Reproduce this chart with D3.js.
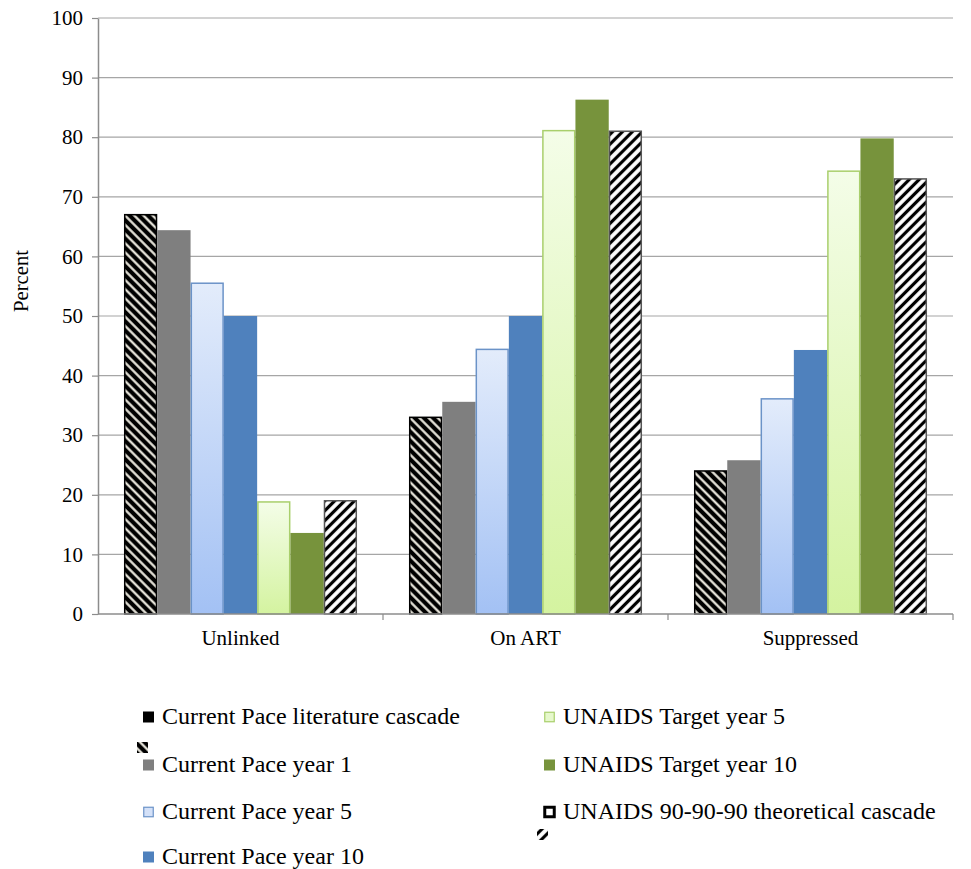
<!DOCTYPE html>
<html>
<head>
<meta charset="utf-8">
<script src="https://cdn.jsdelivr.net/npm/d3@7"></script>
<style>
  html, body { margin: 0; padding: 0; background: #fff; }
  svg { display: block; }
  text { font-family: "Liberation Serif", "Times New Roman", serif; fill: #000; }
</style>
</head>
<body>
<script>
// Care cascade: percent of people in each stage, by scenario
const categories = ["Unlinked", "On ART", "Suppressed"];
const seriesNames = [
  "Current Pace literature cascade",
  "Current Pace year 1",
  "Current Pace year 5",
  "Current Pace year 10",
  "UNAIDS Target year 5",
  "UNAIDS Target year 10",
  "UNAIDS 90-90-90 theoretical cascade"
];
const literatureCascade = [67.0, 33.0, 24.0];
const paceYear1        = [64.4, 35.6, 25.8];
const paceYear5        = [55.5, 44.4, 36.1];
const paceYear10       = [50.0, 50.0, 44.3];
const targetYear5      = [18.8, 81.1, 74.3];
const targetYear10     = [13.6, 86.3, 79.8];
const theoreticalCascade = [19.0, 81.0, 73.0];
const yTicks = [0, 10, 20, 30, 40, 50, 60, 70, 80, 90, 100];

const seriesValues = [literatureCascade, paceYear1, paceYear5, paceYear10,
                      targetYear5, targetYear10, theoreticalCascade];

const W = 971, H = 869;
const svg = d3.select("body").append("svg").attr("width", W).attr("height", H);
const defs = svg.append("defs");

// Fills
function hatch(id, bg, fg, angle, size, sw) {
  const p = defs.append("pattern").attr("id", id)
    .attr("patternUnits", "userSpaceOnUse").attr("width", size).attr("height", size)
    .attr("patternTransform", `rotate(${angle})`);
  p.append("rect").attr("width", size).attr("height", size).attr("fill", bg);
  p.append("line").attr("x1", size / 2).attr("y1", 0).attr("x2", size / 2).attr("y2", size)
    .attr("stroke", fg).attr("stroke-width", sw);
}
hatch("hatchDark", "#000", "#f4f1e6", -45, 6.5, 2.2);
hatch("hatchLight", "#fff", "#000", 45, 7, 3.2);

function vgrad(id, top, bottom) {
  const g = defs.append("linearGradient").attr("id", id)
    .attr("x1", 0).attr("y1", 0).attr("x2", 0).attr("y2", 1);
  g.append("stop").attr("offset", "0%").attr("stop-color", top);
  g.append("stop").attr("offset", "100%").attr("stop-color", bottom);
}
vgrad("gradBlue", "#e3ecfb", "#a3c1f4");
vgrad("gradGreen", "#f4fde8", "#d4f3a0");

const styles = [
  { fill: "url(#hatchDark)", stroke: "#000", sw: 1.5, key: "#000", keyStroke: "none" },
  { fill: "#7f7f7f", stroke: "none", sw: 0, key: "#7f7f7f", keyStroke: "none" },
  { fill: "url(#gradBlue)", stroke: "#6b93c8", sw: 1.5, key: "#d4e1f8", keyStroke: "#6b93c8" },
  { fill: "#4f81bd", stroke: "none", sw: 0, key: "#4f81bd", keyStroke: "none" },
  { fill: "url(#gradGreen)", stroke: "#a9cf6c", sw: 1.5, key: "#e6f8cc", keyStroke: "#a9cf6c" },
  { fill: "#77933c", stroke: "none", sw: 0, key: "#77933c", keyStroke: "none" },
  { fill: "url(#hatchLight)", stroke: "#555", sw: 1.5, key: "#fff", keyStroke: "#000" }
];

const plot = { left: 98, right: 953, top: 18, bottom: 614 };

const x0 = d3.scaleBand().domain(categories).range([plot.left, plot.right]).padding(0);
const x1 = d3.scaleBand().domain(d3.range(seriesNames.length))
  .range([0, x0.bandwidth()]).paddingInner(0).paddingOuter(0.78);
const y = d3.scaleLinear().domain([0, 100]).range([plot.bottom, plot.top]);

// Horizontal gridlines
svg.append("g").selectAll("line").data(yTicks.filter(d => d > 0)).join("line")
  .attr("x1", plot.left).attr("x2", plot.right)
  .attr("y1", d => y(d)).attr("y2", d => y(d))
  .attr("stroke", "#a6a6a6").attr("stroke-width", 1.2);

// Y axis (line and tick marks from d3.axisLeft, labels set in serif type)
const yAxis = svg.append("g").attr("transform", `translate(${plot.left},0)`)
  .call(d3.axisLeft(y).tickValues(yTicks).tickSize(6).tickFormat("").tickSizeOuter(0));
yAxis.select(".domain").attr("stroke", "#8c8c8c").attr("stroke-width", 1.5);
yAxis.selectAll(".tick line").attr("stroke", "#8c8c8c").attr("stroke-width", 1.2);
svg.append("g").selectAll("text").data(yTicks).join("text")
  .attr("x", plot.left - 15).attr("y", d => y(d)).attr("dy", "0.34em")
  .attr("text-anchor", "end").attr("font-size", 21).text(d => d);

// Bars
const groups = svg.append("g").selectAll("g").data(categories).join("g")
  .attr("transform", d => `translate(${x0(d)},0)`);
groups.selectAll("rect")
  .data((c, ci) => seriesValues.map((vals, si) => ({ si, v: vals[ci] })))
  .join("rect")
  .attr("x", d => x1(d.si) + (styles[d.si].sw ? 0.75 : 0))
  .attr("width", d => x1.bandwidth() - (styles[d.si].sw ? 1.5 : 0))
  .attr("y", d => y(d.v))
  .attr("height", d => y(0) - y(d.v))
  .attr("fill", d => styles[d.si].fill)
  .attr("stroke", d => styles[d.si].stroke)
  .attr("stroke-width", d => styles[d.si].sw);

// X axis with ticks at category boundaries
const xAxisG = svg.append("g");
xAxisG.append("line").attr("x1", plot.left).attr("x2", plot.right)
  .attr("y1", plot.bottom).attr("y2", plot.bottom)
  .attr("stroke", "#8c8c8c").attr("stroke-width", 1.5);
xAxisG.selectAll("line.tk").data(categories).join("line").attr("class", "tk")
  .attr("x1", d => x0(d) + x0.bandwidth()).attr("x2", d => x0(d) + x0.bandwidth())
  .attr("y1", plot.bottom).attr("y2", plot.bottom + 6)
  .attr("stroke", "#8c8c8c").attr("stroke-width", 1.2);
xAxisG.selectAll("text").data(categories).join("text")
  .attr("x", d => x0(d) + x0.bandwidth() / 2).attr("y", plot.bottom + 31)
  .attr("text-anchor", "middle").attr("font-size", 21).text(d => d);

// Y axis title
svg.append("text").attr("transform", "translate(28,281) rotate(-90)")
  .attr("text-anchor", "middle").attr("font-size", 20)
  .attr("textLength", 62).attr("lengthAdjust", "spacingAndGlyphs").text("Percent");

// Legend
const legendRows = [717, 765, 812, 857];
const legendItems = seriesNames.map((name, i) => ({
  name, i,
  x: i < 4 ? 143 : 544,
  cy: i < 4 ? legendRows[i] : legendRows[i - 4]
}));
const lg = svg.append("g").selectAll("g").data(legendItems).join("g");
lg.append("rect")
  .attr("x", d => d.x + (styles[d.i].keyStroke === "none" ? 0 : 0.75))
  .attr("y", d => d.cy - 5.5 + (styles[d.i].keyStroke === "none" ? 0 : 0.75))
  .attr("width", d => styles[d.i].keyStroke === "none" ? 11 : 9.5)
  .attr("height", d => styles[d.i].keyStroke === "none" ? 11 : 9.5)
  .attr("fill", d => styles[d.i].key)
  .attr("stroke", d => styles[d.i].keyStroke)
  .attr("stroke-width", d => d.i === 6 ? 3 : 1.2);
lg.append("text")
  .attr("x", d => d.x + 19).attr("y", d => d.cy + 7)
  .attr("font-size", 24).text(d => d.name);

// Hatched swatches that accompany the two patterned series keys
const swatches = [
  { x: 137, y: 742, fill: "url(#hatchDark)" },
  { x: 537, y: 829, fill: "url(#hatchLight)" }
];
svg.append("g").selectAll("rect").data(swatches).join("rect")
  .attr("x", d => d.x).attr("y", d => d.y).attr("width", 11).attr("height", 11)
  .attr("fill", d => d.fill);
</script>
</body>
</html>
